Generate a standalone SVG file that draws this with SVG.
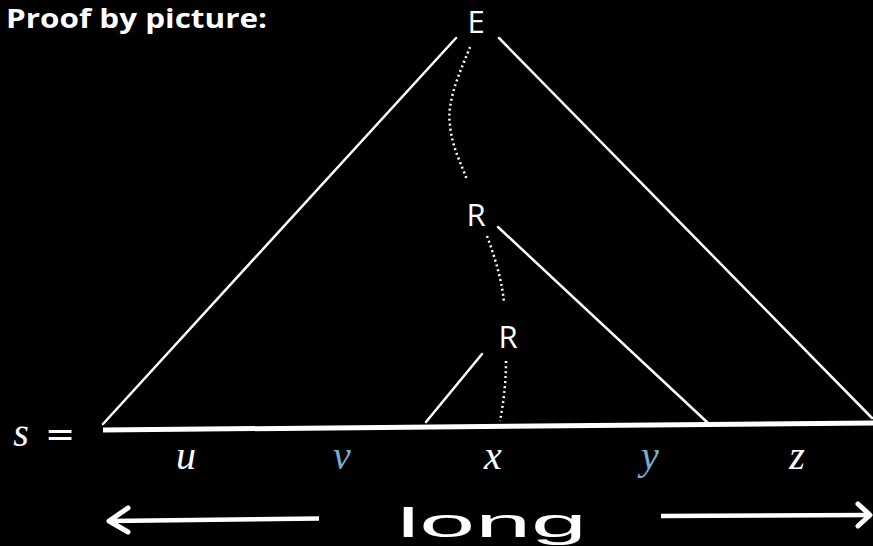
<svg xmlns="http://www.w3.org/2000/svg" width="873" height="546" viewBox="0 0 873 546">
<style>
.ln{stroke:#fff;stroke-width:2.5;fill:none;stroke-linecap:round}
.dot{stroke:#fff;stroke-width:2.5;fill:none;stroke-dasharray:2 3}
.lbl{font-family:"Open Sans","Noto Sans",sans-serif;font-size:31px;fill:#fff;text-anchor:middle}
.m{font-family:"Liberation Serif","DejaVu Serif",serif;font-style:italic;font-size:40px;fill:#fff;text-anchor:middle}
.b{fill:#7aaccf}
</style>
<defs>
<filter id="bl" x="-5%" y="-20%" width="110%" height="140%"><feGaussianBlur stdDeviation="0.7"/></filter>
</defs>
<rect width="873" height="546" fill="#000"/>
<text x="6" y="28" font-family="'Open Sans','Noto Sans',sans-serif" font-weight="bold" font-size="27" fill="#fff" textLength="261" lengthAdjust="spacingAndGlyphs">Proof by picture:</text>
<g id="connectors">
<line class="ln" x1="456" y1="38" x2="103" y2="424"/>
<line class="ln" x1="499" y1="38" x2="872" y2="418"/>
<line class="ln" x1="498" y1="227" x2="708" y2="423"/>
<line class="ln" x1="482" y1="354" x2="426" y2="422"/>
<path class="dot" d="M470,47 C462,68 446,100 450,125 C452,148 462,165 467,180"/>
<path class="dot" d="M487,236 C495,258 502,280 504,303"/>
<path class="dot" d="M506,361 C506,385 503,405 500,421"/>
</g>
<g id="E"><text class="lbl" x="476" y="33">E</text></g>
<g id="R1"><text class="lbl" x="476" y="226">R</text></g>
<g id="R2"><text class="lbl" x="508" y="348">R</text></g>
<g id="string">
<line x1="103" y1="430" x2="873" y2="423" stroke="#fff" stroke-width="5"/>
<text class="m" x="21" y="446" font-size="46">s</text>
<text x="60" y="446" font-family="'DejaVu Sans',sans-serif" font-size="36" fill="#fff" text-anchor="middle">=</text>
<text class="m" x="186" y="469">u</text>
<text class="m b" x="342" y="469">v</text>
<text class="m" x="493" y="469">x</text>
<text class="m b" x="650" y="469">y</text>
<text class="m" x="797" y="469">z</text>
</g>
<g id="long">
<line x1="110" y1="521" x2="319" y2="518.5" stroke="#fff" stroke-width="4.5"/>
<polyline points="128,508 109,521 128,532" stroke="#fff" stroke-width="5" fill="none" stroke-linecap="round" stroke-linejoin="round"/>
<line x1="661" y1="516" x2="869" y2="515" stroke="#fff" stroke-width="4.5"/>
<polyline points="858,504 870,515 858,526" stroke="#fff" stroke-width="5" fill="none" stroke-linecap="round" stroke-linejoin="round"/>
<text x="397" y="537" font-family="'Liberation Sans',Arial,sans-serif" font-size="41" fill="#fff" textLength="190" lengthAdjust="spacingAndGlyphs" filter="url(#bl)">long</text>
</g>
</svg>
